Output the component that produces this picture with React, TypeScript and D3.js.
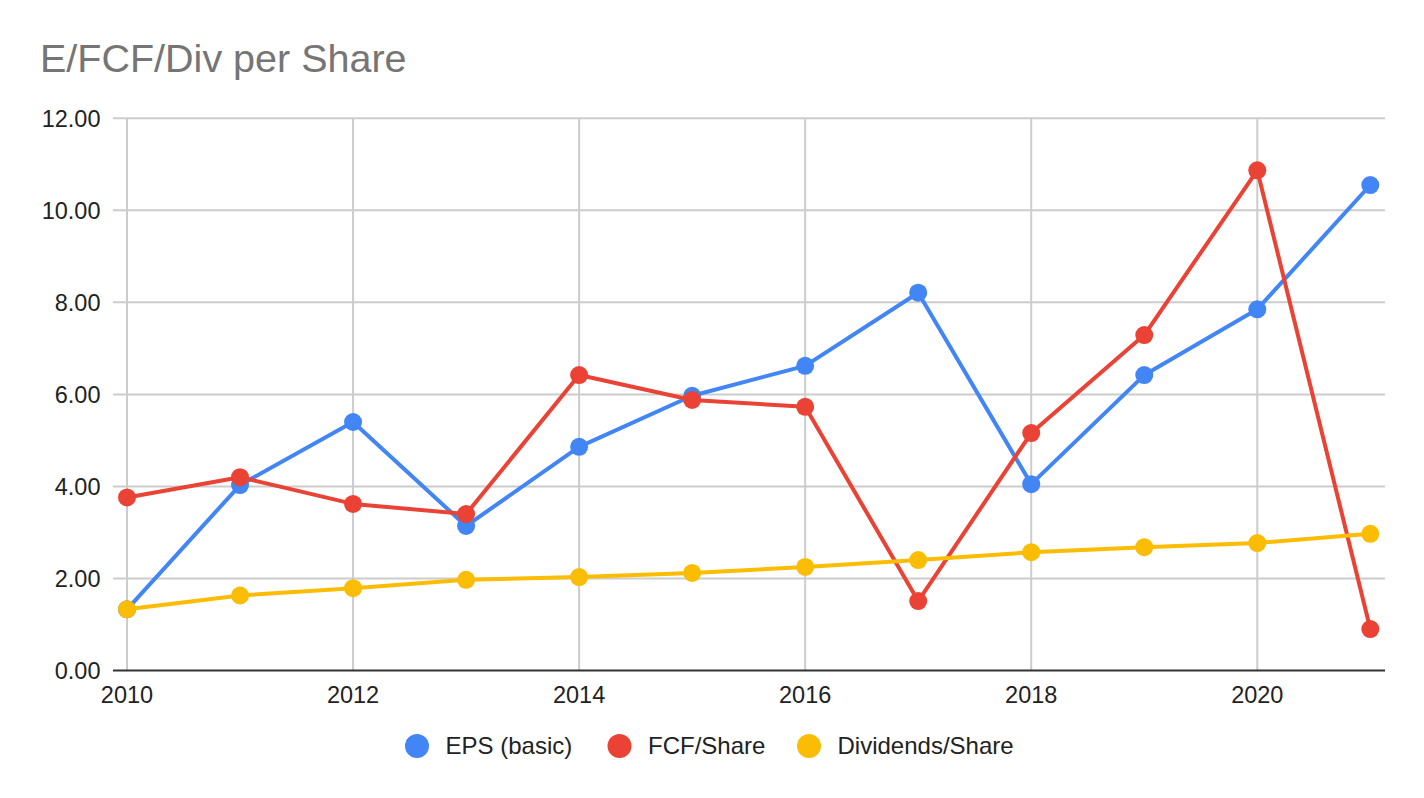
import { useRef, useEffect } from 'react'
import * as d3 from 'd3'

const years = [2010, 2011, 2012, 2013, 2014, 2015, 2016, 2017, 2018, 2019, 2020, 2021]
const eps = [1.33, 4.03, 5.4, 3.14, 4.86, 5.97, 6.62, 8.21, 4.05, 6.42, 7.85, 10.55]
const fcf = [3.76, 4.2, 3.62, 3.4, 6.42, 5.88, 5.73, 1.51, 5.16, 7.29, 10.87, 0.9]
const dividends = [1.33, 1.63, 1.79, 1.97, 2.03, 2.12, 2.25, 2.4, 2.57, 2.68, 2.77, 2.97]
const seriesNames = ['EPS (basic)', 'FCF/Share', 'Dividends/Share']
const seriesColors = ['#4285f4', '#ea4335', '#fbbc04']
const yTicks = [0, 2, 4, 6, 8, 10, 12]
const xTicks = [2010, 2012, 2014, 2016, 2018, 2020]

const W = 1424
const H = 798

export default function App() {
  const svgRef = useRef<SVGSVGElement>(null)

  useEffect(() => {
    if (!svgRef.current) return
    const svg = d3.select(svgRef.current)
    svg.selectAll('*').remove()

    const font = '"Liberation Sans", Arial, sans-serif'
    const x = d3.scaleLinear().domain([2010, 2021.13]).range([127, 1385])
    const y = d3.scaleLinear().domain([0, 12]).range([670.5, 118.3])

    svg.append('rect').attr('width', W).attr('height', H).attr('fill', '#fff')

    // title
    svg.append('text')
      .attr('x', 40).attr('y', 72)
      .attr('font-family', font).attr('font-size', 39.5)
      .attr('fill', '#757575')
      .text('E/FCF/Div per Share')

    // horizontal grid + y labels
    yTicks.forEach(t => {
      if (t !== 0) {
        svg.append('line')
          .attr('x1', 113).attr('x2', 1385)
          .attr('y1', y(t)).attr('y2', y(t))
          .attr('stroke', '#cccccc').attr('stroke-width', 2)
      }
      svg.append('text')
        .attr('x', 100.5).attr('y', y(t) + 8.5)
        .attr('text-anchor', 'end')
        .attr('font-family', font).attr('font-size', 23.5)
        .attr('fill', '#222')
        .text(t.toFixed(2))
    })

    // vertical grid + x labels
    xTicks.forEach(t => {
      svg.append('line')
        .attr('x1', x(t)).attr('x2', x(t))
        .attr('y1', y(12)).attr('y2', y(0))
        .attr('stroke', '#cccccc').attr('stroke-width', 2)
      svg.append('text')
        .attr('x', x(t)).attr('y', 702.5)
        .attr('text-anchor', 'middle')
        .attr('font-family', font).attr('font-size', 23.5)
        .attr('fill', '#222')
        .text(String(t))
    })

    // baseline
    svg.append('line')
      .attr('x1', 113).attr('x2', 1385)
      .attr('y1', y(0)).attr('y2', y(0))
      .attr('stroke', '#333').attr('stroke-width', 2)

    const allSeries = [eps, fcf, dividends]
    const line = d3.line<number>()
      .x((_, i) => x(years[i]))
      .y(d => y(d))

    allSeries.forEach((vals, si) => {
      svg.append('path')
        .datum(vals)
        .attr('d', line)
        .attr('fill', 'none')
        .attr('stroke', seriesColors[si])
        .attr('stroke-width', 4)
        .attr('stroke-linejoin', 'round')
      svg.selectAll(null)
        .data(vals)
        .enter()
        .append('circle')
        .attr('cx', (_, i) => x(years[i]))
        .attr('cy', d => y(d))
        .attr('r', 9)
        .attr('fill', seriesColors[si])
    })

    // legend
    const legendX = [417, 619.5, 809]
    seriesNames.forEach((name, i) => {
      svg.append('circle')
        .attr('cx', legendX[i]).attr('cy', 746)
        .attr('r', 12)
        .attr('fill', seriesColors[i])
      svg.append('text')
        .attr('x', legendX[i] + 28.5).attr('y', 753.5)
        .attr('font-family', font).attr('font-size', 24)
        .attr('fill', '#222')
        .text(name)
    })
  }, [])

  return (
    <svg
      ref={svgRef}
      width={W}
      height={H}
      style={{ position: 'absolute', left: 0, top: 0 }}
    />
  )
}
